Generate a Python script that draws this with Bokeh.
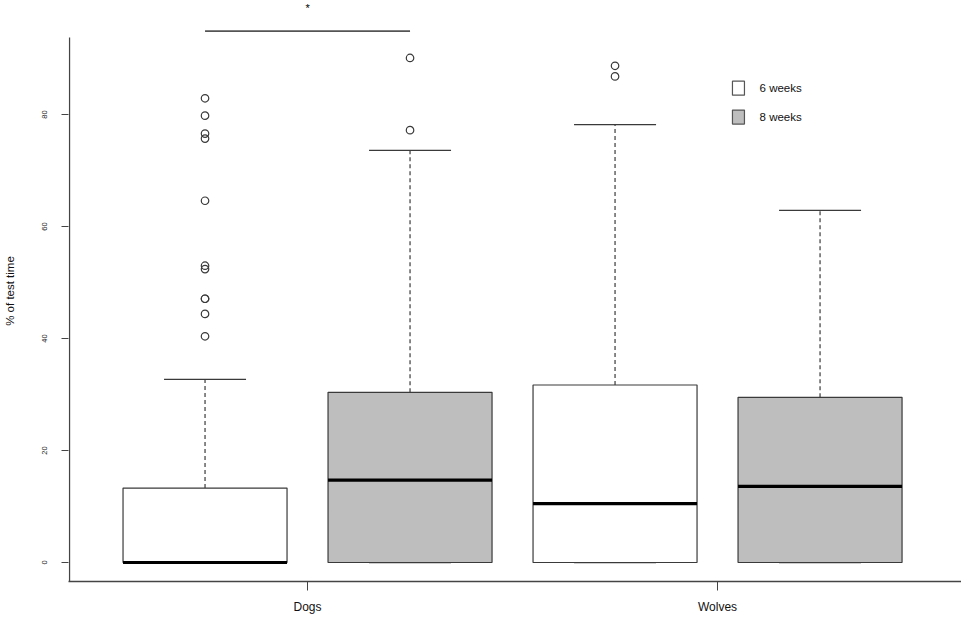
from bokeh.plotting import figure
from bokeh.models import FixedTicker, Range1d, ColumnDataSource
from bokeh.core.properties import value
from bokeh.embed import file_html
from bokeh.resources import INLINE

# ---- data ----
groups = ["Dogs", "Wolves"]
ages = ["6 weeks", "8 weeks"]
box_group = ["Dogs", "Dogs", "Wolves", "Wolves"]
box_age = ["6 weeks", "8 weeks", "6 weeks", "8 weeks"]
q1 = [0.0, 0.0, 0.0, 0.0]
median = [0.0, 14.7, 10.5, 13.6]
q3 = [13.3, 30.4, 31.7, 29.5]
lower_whisker = [0.0, 0.0, 0.0, 0.0]
upper_whisker = [32.7, 73.6, 78.2, 62.9]
outliers_dogs_6 = [82.9, 79.8, 76.6, 75.7, 64.6, 53.0, 52.4, 47.1, 47.1, 44.4, 40.4]
outliers_dogs_8 = [90.1, 77.2]
outliers_wolves_6 = [88.7, 86.8]
outliers_wolves_8 = []
y_ticks = [0, 20, 40, 60, 80]
y_label = "% of test time"
signif_label = "*"
signif_level = 94.9

age_fill = {"6 weeks": "#ffffff", "8 weeks": "#bebebe"}
LINE = "#3a3a3a"

pos = [1, 2, 3, 4]
box_w = 0.8
cap_w = 0.4

p = figure(width=961, height=617, output_backend="svg", toolbar_location=None,
           x_range=Range1d(0.334, 4.690), y_range=Range1d(-3.39, 100.36),
           min_border_left=68, min_border_right=0, min_border_top=0, min_border_bottom=36)
p.outline_line_color = None
p.xgrid.visible = False
p.ygrid.visible = False
p.background_fill_color = "white"
p.border_fill_color = "white"

src = ColumnDataSource(dict(
    x=pos, q1=q1, q3=q3, med=median, lo=lower_whisker, hi=upper_whisker,
    fill=[age_fill[a] for a in box_age],
    left=[x - box_w / 2 for x in pos], right=[x + box_w / 2 for x in pos],
    cl=[x - cap_w / 2 for x in pos], cr=[x + cap_w / 2 for x in pos],
))

# whiskers (dashed)
p.segment(x0="x", y0="q3", x1="x", y1="hi", source=src, line_color=LINE,
          line_width=1.2, line_dash="4 3")
p.segment(x0="x", y0="lo", x1="x", y1="q1", source=src, line_color=LINE,
          line_width=1.2, line_dash="4 3")
# caps
p.segment(x0="cl", y0="hi", x1="cr", y1="hi", source=src, line_color=LINE, line_width=1.3)
p.segment(x0="cl", y0="lo", x1="cr", y1="lo", source=src, line_color=LINE, line_width=1.3)
# boxes
p.quad(left="left", right="right", bottom="q1", top="q3", source=src,
       fill_color="fill", line_color=LINE, line_width=1.2)
# medians
p.segment(x0="left", y0="med", x1="right", y1="med", source=src,
          line_color="black", line_width=3.2)

# outliers
ox, oy = [], []
for x, vals in zip(pos, [outliers_dogs_6, outliers_dogs_8, outliers_wolves_6, outliers_wolves_8]):
    ox += [x] * len(vals)
    oy += vals
p.scatter(ox, oy, marker="circle", size=7.5, fill_color=None, line_color=LINE, line_width=1.2)

# significance bar between Dogs 6 and 8 weeks
p.segment(x0=[pos[0]], y0=[signif_level], x1=[pos[1]], y1=[signif_level],
          line_color="#555555", line_width=1.6)
p.text(x=[(pos[0] + pos[1]) / 2], y=[99.0], text=[signif_label], text_align="center",
       text_baseline="middle", text_font=value("Liberation Sans"),
       text_font_size="11px", text_color="black")

# left spine (L-shaped frame like R's default axes)
p.segment(x0=[0.339], y0=[-3.39], x1=[0.339], y1=[93.75], line_color="#444444", line_width=1.3)

# legend
leg_x = 3.602
leg_y = [84.7, 79.55]
p.rect(x=[leg_x, leg_x], y=leg_y, width=12, height=14, width_units="screen",
       height_units="screen", fill_color=[age_fill[a] for a in ages],
       line_color="#555555", line_width=1.2)
p.text(x=[3.705, 3.705], y=leg_y, text=ages, text_baseline="middle", text_align="left",
       text_font=value("Liberation Sans"), text_font_size="11.5px", text_color="#111111")

# axes
xa = p.xaxis[0]
xa.ticker = FixedTicker(ticks=[1.5, 3.5])
xa.major_label_overrides = {1.5: groups[0], 3.5: groups[1]}
xa.axis_line_color = "#444444"
xa.axis_line_width = 1.3
xa.major_tick_out = 9
xa.major_tick_in = 0
xa.major_tick_line_color = "#444444"
xa.minor_tick_line_color = None
xa.major_label_standoff = 9
xa.major_label_text_font = "Liberation Sans"
xa.major_label_text_font_size = "12px"
xa.major_label_text_color = "#111111"

ya = p.yaxis[0]
ya.ticker = FixedTicker(ticks=y_ticks)
ya.axis_line_color = None
ya.major_tick_out = 7
ya.major_tick_in = 0
ya.major_tick_line_color = "#444444"
ya.minor_tick_line_color = None
ya.major_label_orientation = "vertical"
ya.major_label_standoff = 14
ya.major_label_text_font = "Liberation Sans"
ya.major_label_text_font_size = "7.5px"
ya.major_label_text_color = "#222222"
ya.axis_label = y_label
ya.axis_label_text_font = "Liberation Sans"
ya.axis_label_text_font_style = "normal"
ya.axis_label_text_font_size = "11.5px"
ya.axis_label_text_color = "#111111"
ya.axis_label_standoff = 24

open("out.html", "w").write(file_html(p, INLINE))
